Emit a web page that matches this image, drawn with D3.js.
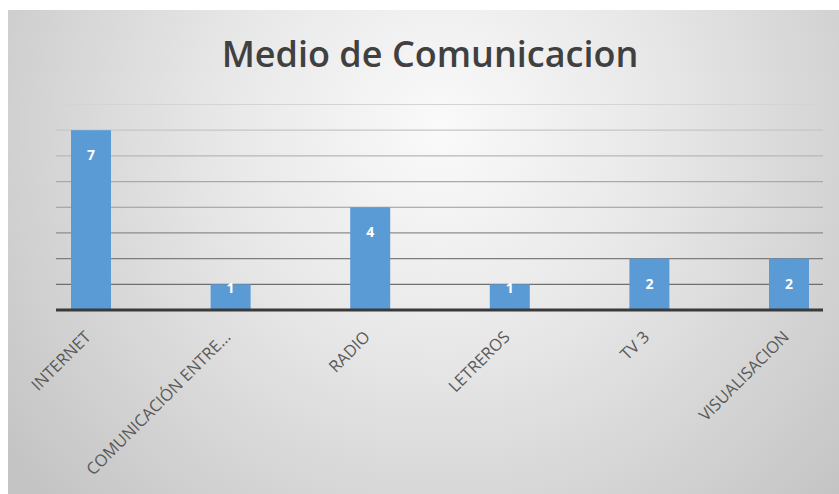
<!DOCTYPE html>
<html>
<head>
<meta charset="utf-8">
<script src="https://cdn.jsdelivr.net/npm/d3@7"></script>
<style>
  html, body { margin: 0; padding: 0; background: #ffffff; }
  svg { display: block; }
</style>
</head>
<body>
<script>
const title = "Medio de Comunicacion";
const categories = ["INTERNET", "COMUNICACIÓN ENTRE...", "RADIO", "LETREROS", "TV 3", "VISUALISACION"];
const values = [7, 1, 4, 1, 2, 2];
const gridTicks = [1, 2, 3, 4, 5, 6, 7, 8];

const W = 839, H = 494;
const svg = d3.select("body").append("svg").attr("width", W).attr("height", H);

const defs = svg.append("defs");
const grad = defs.append("radialGradient").attr("id", "bg")
  .attr("gradientUnits", "userSpaceOnUse")
  .attr("cx", 440).attr("cy", 130).attr("r", 540);
grad.append("stop").attr("offset", 0).attr("stop-color", "#fafafa");
grad.append("stop").attr("offset", 0.4).attr("stop-color", "#e8e8e8");
grad.append("stop").attr("offset", 1).attr("stop-color", "#c4c4c4");

svg.append("rect").attr("x", 8).attr("y", 10).attr("width", W - 8).attr("height", H - 10)
  .attr("fill", "url(#bg)");

const x = d3.scalePoint().domain(categories).range([91, 789]);
const y = d3.scaleLinear().domain([0, 8]).range([310, 104.5]);
const barW = 40;
const plotL = 56, plotR = 823;

const gridColor = d3.scaleLinear().domain([1, 8]).range(["#6f6f6f", "#d4d4d4"]);
svg.append("g").selectAll("line").data(gridTicks).join("line")
  .attr("x1", plotL).attr("x2", plotR)
  .attr("y1", d => y(d)).attr("y2", d => y(d))
  .attr("stroke", d => gridColor(d)).attr("stroke-width", 1.2);

svg.append("g").selectAll("rect").data(values).join("rect")
  .attr("x", (d, i) => x(categories[i]) - barW / 2)
  .attr("y", d => y(d))
  .attr("width", barW)
  .attr("height", d => y(0) - y(d))
  .attr("fill", "#5b9bd5");

svg.append("line").attr("x1", plotL).attr("x2", plotR)
  .attr("y1", y(0)).attr("y2", y(0))
  .attr("stroke", "#3a3a3a").attr("stroke-width", 3);

svg.append("g").selectAll("text").data(values).join("text")
  .attr("x", (d, i) => x(categories[i]))
  .attr("y", d => (y(0) - y(d)) > 40 ? y(d) + 30 : y(d) + 9)
  .attr("text-anchor", "middle")
  .attr("font-family", "'Open Sans', sans-serif")
  .attr("font-weight", 700)
  .attr("font-size", 14)
  .attr("fill", "#ffffff")
  .text(d => d);

svg.append("g").selectAll("text").data(categories).join("text")
  .attr("transform", d => `translate(${x(d) + 1},${338}) rotate(-45)`)
  .attr("text-anchor", "end")
  .attr("font-family", "'Open Sans', sans-serif")
  .attr("font-size", 16.5)
  .attr("fill", "#595959")
  .text(d => d);

svg.append("text")
  .attr("x", 430).attr("y", 67)
  .attr("text-anchor", "middle")
  .attr("font-family", "'Open Sans', sans-serif")
  .attr("font-weight", 600)
  .attr("font-size", 36)
  .attr("fill", "#404040")
  .text(title);
</script>
</body>
</html>
